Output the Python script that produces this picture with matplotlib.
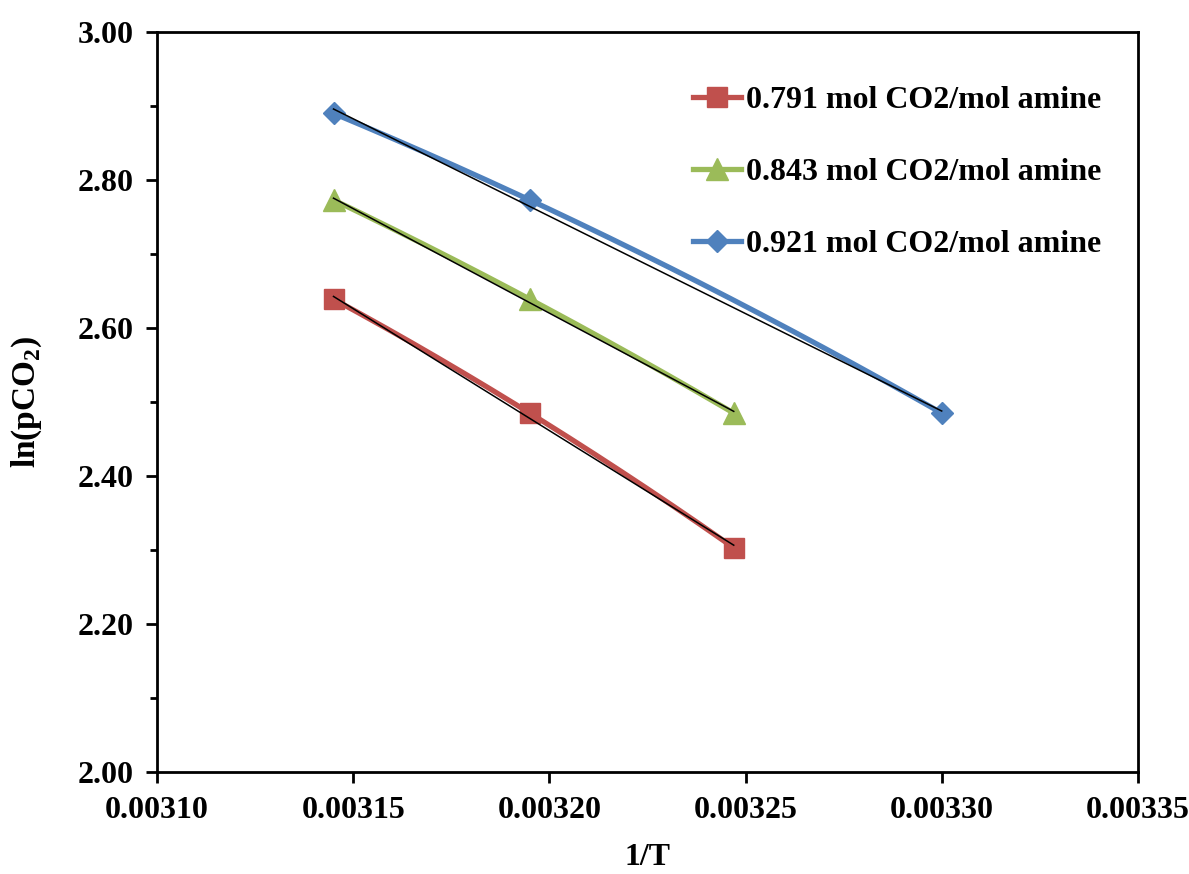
import numpy as np
import matplotlib
matplotlib.use("Agg")
import matplotlib.pyplot as plt
from matplotlib.ticker import MultipleLocator, FormatStrFormatter

plt.rcParams['font.family'] = ['Liberation Serif', 'DejaVu Serif']
plt.rcParams['font.weight'] = 'bold'
plt.rcParams['mathtext.fontset'] = 'custom'
plt.rcParams['mathtext.rm'] = 'Liberation Serif:bold'
plt.rcParams['mathtext.bf'] = 'Liberation Serif:bold'

labels = ["0.791 mol CO2/mol amine", "0.843 mol CO2/mol amine", "0.921 mol CO2/mol amine"]
x_791 = [0.003145, 0.003195, 0.003247]
y_791 = [2.639, 2.485, 2.303]
x_843 = [0.003145, 0.003195, 0.003247]
y_843 = [2.773, 2.639, 2.485]
x_921 = [0.003145, 0.003195, 0.003300]
y_921 = [2.890, 2.773, 2.485]
colors = ["#C0504D", "#9BBB59", "#4F81BD"]
markers = ["s", "^", "D"]
msizes = [14, 16, 11]

FS = 23

fig = plt.figure(figsize=(11.89, 8.74), dpi=100)
ax = fig.add_axes([0.132, 0.1167, 0.825, 0.8467])

series = [(x_791, y_791), (x_843, y_843), (x_921, y_921)]
for (xs, ys), c, m, ms, lab in zip(series, colors, markers, msizes, labels):
    xs = np.array(xs); ys = np.array(ys)
    coef = np.polyfit(xs, ys, 2)
    xx = np.linspace(xs.min(), xs.max(), 200)
    ax.plot(xx, np.polyval(coef, xx), color=c, lw=3.8, zorder=2, solid_capstyle='round')
    ax.plot(xs, ys, linestyle='none', marker=m, markersize=ms, color=c, zorder=3)
    ax.plot([], [], color=c, lw=3.8, marker=m, markersize=ms, label=lab)
    lin = np.polyfit(xs, ys, 1)
    xl = np.array([xs.min(), xs.max()])
    ax.plot(xl, np.polyval(lin, xl), color='black', lw=1.1, zorder=4)

ax.set_xlim(0.00310, 0.00335)
ax.set_ylim(2.0, 3.0)
ax.xaxis.set_major_locator(MultipleLocator(0.00005))
ax.yaxis.set_major_locator(MultipleLocator(0.2))
ax.yaxis.set_minor_locator(MultipleLocator(0.1))
ax.xaxis.set_major_formatter(FormatStrFormatter('%.5f'))
ax.yaxis.set_major_formatter(FormatStrFormatter('%.2f'))
ax.tick_params(axis='both', which='major', direction='out', length=8, width=2, labelsize=FS, pad=9)
ax.tick_params(axis='y', which='minor', direction='out', length=5, width=2)
for sp in ax.spines.values():
    sp.set_linewidth(2)
for lab in ax.get_xticklabels() + ax.get_yticklabels():
    lab.set_fontweight('bold')

ax.set_xlabel('1/T', fontsize=FS, fontweight='bold', labelpad=13)
ax.set_ylabel(r'ln(pCO$_2$)', fontsize=FS + 1, fontweight='bold', labelpad=24)

leg = ax.legend(loc='upper right', bbox_to_anchor=(0.992, 0.966), frameon=False,
                handlelength=1.5, handletextpad=0.15, labelspacing=1.33,
                prop={'family': 'Liberation Serif', 'weight': 'bold', 'size': FS})

fig.savefig('out.png', dpi=100)
